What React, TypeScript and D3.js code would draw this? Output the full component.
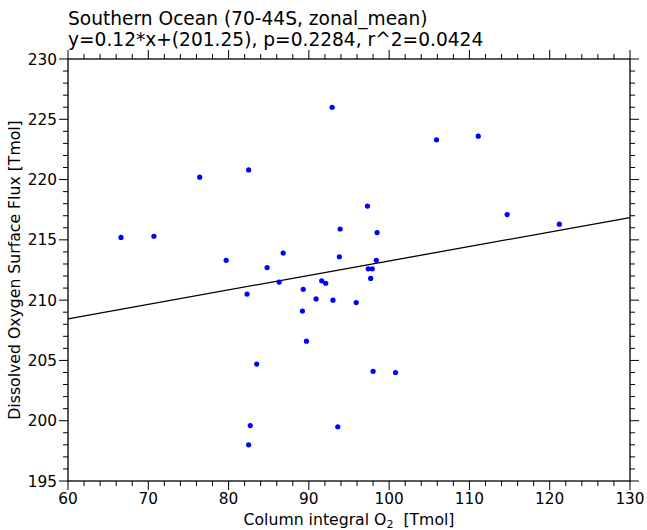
import React from "react";
import * as d3 from "d3";

// Column integral O2 [Tmol]
const colO2: number[] = [
  92.9, 76.4, 82.5, 66.6, 70.7, 93.9, 79.7, 86.8, 93.8, 84.8,
  105.9, 111.1, 97.3, 114.7, 121.2, 98.5, 98.4, 97.4, 97.9, 86.3,
  82.3, 89.3, 91.6, 92.1, 90.9, 93.0, 95.9, 89.2, 89.7, 83.5,
  82.7, 82.5, 93.6, 97.7, 98.0, 100.8,
];
// Dissolved oxygen surface flux [Tmol]
const surfFlux: number[] = [
  226.0, 220.2, 220.8, 215.2, 215.3, 215.9, 213.3, 213.9, 213.6, 212.7,
  223.3, 223.6, 217.8, 217.1, 216.3, 215.6, 213.3, 212.6, 212.6, 211.5,
  210.5, 210.9, 211.6, 211.4, 210.1, 210.0, 209.8, 209.1, 206.6, 204.7,
  199.6, 198.0, 199.5, 211.8, 204.1, 204.0,
];

const slope = 0.12;
const intercept = 201.25;
const pValue = "0.2284";
const rSquared = "0.0424";

const xDomain: [number, number] = [60, 130];
const yDomain: [number, number] = [195, 230];
const xMajorTicks: number[] = [60, 70, 80, 90, 100, 110, 120, 130];
const yMajorTicks: number[] = [195, 200, 205, 210, 215, 220, 225, 230];

const W = 647;
const H = 530;
const M = { left: 68, right: 17, top: 59, bottom: 49 };
const FONT = "DejaVu Sans, sans-serif";

export default function App() {
  const x = d3.scaleLinear().domain(xDomain).range([M.left, W - M.right]);
  const y = d3.scaleLinear().domain(yDomain).range([H - M.bottom, M.top]);
  const x0 = x.range()[0], x1 = x.range()[1];
  const y0 = y.range()[0], y1 = y.range()[1];

  const xMinor = d3.range(xDomain[0], xDomain[1] + 0.001, 2).filter((v) => !xMajorTicks.includes(v));
  const yMinor = d3.range(yDomain[0], yDomain[1] + 0.001, 1).filter((v) => !yMajorTicks.includes(v));

  const fit = d3.line<number>().x((v) => x(v)).y((v) => y(slope * v + intercept));
  const MAJ = 9, MIN = 5;

  return (
    <svg width={W} height={H} style={{ position: "absolute", left: 0, top: 0, background: "#fff" }} fontFamily={FONT}>
      <rect width={W} height={H} fill="#fff" />
      <text x={x0} y={25} fontSize={18.6} fill="#000">Southern Ocean (70-44S, zonal_mean)</text>
      <text x={x0} y={45.5} fontSize={18.6} fill="#000">
        {`y=${slope}*x+(${intercept}), p=${pValue}, r^2=${rSquared}`}
      </text>

      {/* ticks on all four sides, pointing outward */}
      <g stroke="#000" strokeWidth={1}>
        {xMajorTicks.map((v) => (
          <g key={"xM" + v}>
            <line x1={x(v)} x2={x(v)} y1={y0} y2={y0 + MAJ} />
            <line x1={x(v)} x2={x(v)} y1={y1} y2={y1 - MAJ} />
          </g>
        ))}
        {xMinor.map((v) => (
          <g key={"xm" + v}>
            <line x1={x(v)} x2={x(v)} y1={y0} y2={y0 + MIN} />
            <line x1={x(v)} x2={x(v)} y1={y1} y2={y1 - MIN} />
          </g>
        ))}
        {yMajorTicks.map((v) => (
          <g key={"yM" + v}>
            <line x1={x0} x2={x0 - MAJ} y1={y(v)} y2={y(v)} />
            <line x1={x1} x2={x1 + MAJ} y1={y(v)} y2={y(v)} />
          </g>
        ))}
        {yMinor.map((v) => (
          <g key={"ym" + v}>
            <line x1={x0} x2={x0 - MIN} y1={y(v)} y2={y(v)} />
            <line x1={x1} x2={x1 + MIN} y1={y(v)} y2={y(v)} />
          </g>
        ))}
      </g>

      {xMajorTicks.map((v) => (
        <text key={"xl" + v} x={x(v)} y={y0 + 23} fontSize={15.3} textAnchor="middle">{v}</text>
      ))}
      {yMajorTicks.map((v) => (
        <text key={"yl" + v} x={x0 - 11} y={y(v)} dy="0.36em" fontSize={15.3} textAnchor="end">{v}</text>
      ))}

      <text x={(x0 + x1) / 2} y={524.5} fontSize={15.7} textAnchor="middle" style={{ whiteSpace: "pre" }}>
        Column integral O<tspan dy={3.5} fontSize={11}>2</tspan><tspan dy={-3.5}>{"  [Tmol]"}</tspan>
      </text>
      <text transform={`translate(19.5,${(y0 + y1) / 2}) rotate(-90)`} fontSize={15.7} textAnchor="middle">
        Dissolved Oxygen Surface Flux [Tmol]
      </text>

      <path d={fit(xDomain) || ""} fill="none" stroke="#000" strokeWidth={1.3} />

      {colO2.map((v, i) => (
        <circle key={i} cx={x(v)} cy={y(surfFlux[i])} r={2.6} fill="#0000ff" />
      ))}

      <rect x={x0} y={y1} width={x1 - x0} height={y0 - y1} fill="none" stroke="#000" strokeWidth={1.3} />
    </svg>
  );
}
